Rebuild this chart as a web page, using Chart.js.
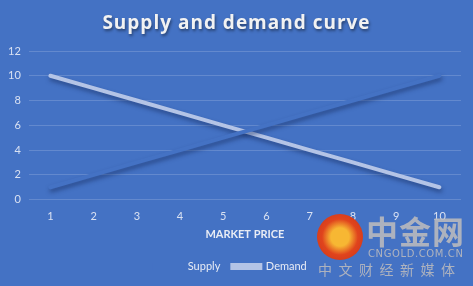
<!DOCTYPE html>
<html>
<head>
<meta charset="utf-8">
<script src="https://cdn.jsdelivr.net/npm/chart.js@4"></script>
<style>
  html, body { margin: 0; padding: 0; background: #4472c4; }
  #wrap { position: relative; width: 473px; height: 286px; overflow: hidden; }
  #title {
    position: absolute; left: 0; top: 9px; width: 473px; text-align: center;
    font: bold 19px "Open Sans", sans-serif; letter-spacing: 1px; color: #f2f2f2;
    text-shadow: 1px 2px 3px rgba(0,0,0,0.45);
  }
  .wm { position: absolute; color: rgba(185,185,190,0.9); font-family: "Noto Sans CJK SC", sans-serif; }
  #logo {
    position: absolute; left: 317px; top: 214px; width: 46px; height: 46px; border-radius: 50%;
    background: radial-gradient(circle at 50% 50%, #f7b733 0 28%, #e0441d 55%, #c8321a 100%);
  }
</style>
</head>
<body>
<div id="wrap">
  <canvas id="chart" width="473" height="286"></canvas>
  <div id="title">Supply and demand curve</div>
  <div id="logo"></div>
  <div class="wm" style="left:366px;top:214px;font-size:32px;font-weight:bold;line-height:32px;letter-spacing:1px;">中金网</div>
  <div class="wm" style="left:368px;top:248px;font-size:10px;font-family:'DejaVu Sans',sans-serif;letter-spacing:0.6px;">CNGOLD.COM.CN</div>
  <div class="wm" style="left:318px;top:259px;font-size:14px;letter-spacing:6.5px;">中文财经新媒体</div>
</div>
<script>
const categories = ["1", "2", "3", "4", "5", "6", "7", "8", "9", "10"];
const supply = [1, 2, 3, 4, 5, 6, 7, 8, 9, 10];
const demand = [10, 9, 8, 7, 6, 5, 4, 3, 2, 1];
const yTicks = [0, 2, 4, 6, 8, 10, 12];

const tickColor = "#d9e1f2";

// soft drop shadow under the lines, like the office chart style
const lineShadow = {
  id: "lineShadow",
  beforeDatasetsDraw(chart) {
    const ctx = chart.ctx;
    ctx.save();
    ctx.shadowColor = "rgba(20,40,90,0.55)";
    ctx.shadowBlur = 4;
    ctx.shadowOffsetX = 1;
    ctx.shadowOffsetY = 3;
  },
  afterDatasetsDraw(chart) {
    chart.ctx.restore();
  }
};

const config = {
  type: "line",
  data: {
    labels: categories,
    datasets: [
      {
        label: "Supply",
        data: supply,
        borderColor: "#4472c4",
        backgroundColor: "#4472c4",
        borderWidth: 4,
        pointRadius: 0,
        tension: 0,
        borderCapStyle: "round"
      },
      {
        label: "Demand",
        data: demand,
        borderColor: "#b4c4e6",
        backgroundColor: "#b4c4e6",
        borderWidth: 4,
        pointRadius: 0,
        tension: 0,
        borderCapStyle: "round"
      }
    ]
  },
  options: {
    responsive: false,
    animation: false,
    layout: { padding: { top: 51, left: 0, right: 12, bottom: 4 } },
    plugins: {
      legend: {
        position: "bottom",
        labels: {
          color: "#e8ecf5",
          font: { family: "Lato, sans-serif", size: 11 },
          boxWidth: 28,
          boxHeight: 3,
          padding: 12
        }
      },
      tooltip: { enabled: false }
    },
    scales: {
      x: {
        offset: true,
        grid: { display: false },
        border: { display: false },
        ticks: { color: tickColor, font: { family: "Lato, sans-serif", size: 11 }, padding: 2 },
        title: {
          display: true,
          text: "MARKET PRICE",
          color: "#e8ecf5",
          font: { family: "Lato, sans-serif", size: 11, weight: "bold" },
          padding: { top: 3, bottom: 8 }
        }
      },
      y: {
        min: 0,
        max: 12,
        afterBuildTicks(axis) { axis.ticks = yTicks.map(v => ({ value: v })); },
        grid: { color: "rgba(255,255,255,0.17)", drawTicks: false },
        border: { display: false },
        ticks: { color: tickColor, font: { family: "Lato, sans-serif", size: 11 }, padding: 8 }
      }
    }
  },
  plugins: [lineShadow]
};

new Chart(document.getElementById("chart"), config);
</script>
</body>
</html>
